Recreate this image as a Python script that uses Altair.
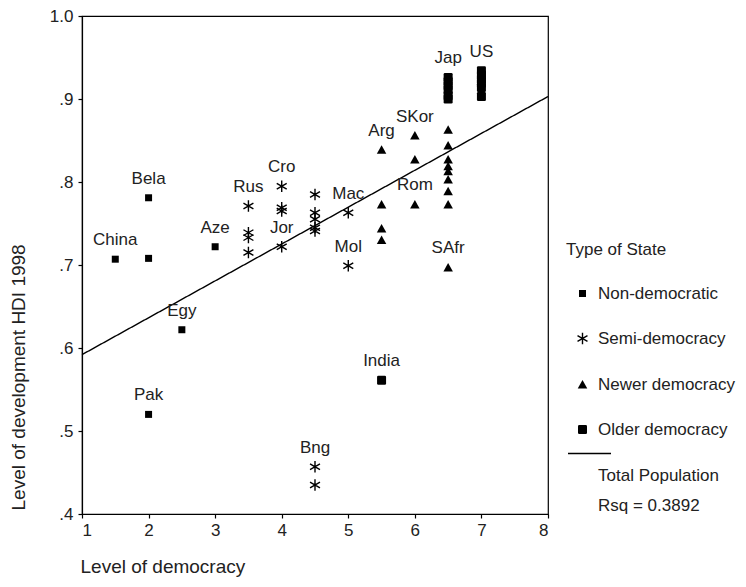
import altair as alt
import pandas as pd

# ---------------- data ----------------
types = ["Non-democratic", "Semi-democracy", "Newer democracy", "Older democracy"]

nondem_x = [1.5, 2, 2, 2, 2.5, 3]
nondem_y = [0.707, 0.708, 0.781, 0.520, 0.622, 0.722]

semi_x = [3.5, 3.5, 3.5, 3.5, 4, 4, 4, 4, 4.5, 4.5, 4.5, 4.5, 4.5, 4.5, 4.5, 5, 5]
semi_y = [0.771, 0.739, 0.733, 0.715, 0.795, 0.769, 0.765, 0.722,
          0.785, 0.763, 0.755, 0.745, 0.741, 0.457, 0.435, 0.763, 0.699]

newer_x = [5.5, 5.5, 5.5, 5.5, 6, 6, 6, 6.5, 6.5, 6.5, 6.5, 6.5, 6.5, 6.5, 6.5, 6.5]
newer_y = [0.839, 0.773, 0.744, 0.730, 0.856, 0.827, 0.773,
           0.863, 0.844, 0.827, 0.819, 0.813, 0.803, 0.789, 0.773, 0.697]

older_x = [5.5, 6.5, 6.5, 6.5, 6.5, 6.5, 6.5, 7, 7, 7, 7, 7, 7]
older_y = [0.561, 0.926, 0.921, 0.916, 0.911, 0.904, 0.900,
           0.934, 0.929, 0.924, 0.919, 0.914, 0.903]

label_names = ["China", "Bela", "Aze", "Egy", "Pak", "Rus", "Cro", "Jor", "Mac",
               "Mol", "Bng", "Arg", "SKor", "Rom", "SAfr", "Jap", "US", "India"]
label_x = [1.5, 2, 3, 2.5, 2, 3.5, 4, 4, 5, 5, 4.5, 5.5, 6, 6, 6.5, 6.5, 7, 5.5]
label_y = [0.707, 0.781, 0.722, 0.622, 0.520, 0.771, 0.795, 0.722, 0.763,
           0.699, 0.457, 0.839, 0.856, 0.773, 0.697, 0.926, 0.934, 0.561]

fit_x = [1, 8]
fit_y = [0.592, 0.903]
fit_name = "Total Population"
rsq_text = "Rsq = 0.3892"

x_ticks = [1, 2, 3, 4, 5, 6, 7, 8]
y_ticks = [0.4, 0.5, 0.6, 0.7, 0.8, 0.9, 1.0]

# ---------------- tables ----------------
rows = []
for t, xs, ys in zip(types, [nondem_x, semi_x, newer_x, older_x],
                     [nondem_y, semi_y, newer_y, older_y]):
    for a, b in zip(xs, ys):
        rows.append({"x": a, "y": b, "type": t})
pts = pd.DataFrame(rows)
labels = pd.DataFrame({"name": label_names, "x": label_x, "y": label_y})
fit = pd.DataFrame({"x": fit_x, "y": fit_y,
                    "series": [fit_name] * len(fit_x),
                    "rsq": [rsq_text] * len(fit_x)})

FONT = "Liberation Sans"
TXT = "#222222"
FS = 17

asterisk = (
    "M-0.14,-1.15V1.15H0.14V-1.15Z"
    "M0.926,0.696L1.066,0.454L-0.926,-0.696L-1.066,-0.454Z"
    "M1.066,-0.454L0.926,-0.696L-1.066,0.454L-0.926,0.696Z"
)
shape_paths = [
    "M-0.7,-0.7H0.7V0.7H-0.7Z",
    asterisk,
    "M0,-0.9L0.95,0.8H-0.95Z",
    "M-0.65,-0.9H0.65Q0.9,-0.9 0.9,-0.65V0.65Q0.9,0.9 0.65,0.9H-0.65Q-0.9,0.9 -0.9,0.65V-0.65Q-0.9,-0.9 -0.65,-0.9Z",
]

x_scale = alt.Scale(domain=[1, 8], nice=False, zero=False)
y_scale = alt.Scale(domain=[0.4, 1.0], nice=False, zero=False)

x_axis = alt.Axis(
    values=x_ticks, format="d", title="Level of democracy", grid=False,
    titleAnchor="start", titleAlign="left", titleX=-2, titleY=52,
    titleBaseline="middle", titleFontSize=19,
)
y_axis = alt.Axis(
    values=y_ticks, title="Level of development HDI 1998", grid=False,
    labelExpr="datum.value >= 1 ? '1.0' : substring(format(datum.value, '.1f'), 1)",
    titleAnchor="start", titleAlign="left", titleX=-64, titleY=494,
    titleBaseline="middle", titleAngle=-90, titleFontSize=19,
)

legend_common = dict(
    title=None, orient="none", legendX=499, symbolSize=100, labelOffset=0,
    labelFont=FONT, labelFontSize=FS, labelColor=TXT, labelLimit=300, padding=0,
)

line = alt.Chart(fit).mark_line(strokeWidth=1.4).encode(
    x=alt.X("x:Q", scale=x_scale, axis=x_axis),
    y=alt.Y("y:Q", scale=y_scale, axis=y_axis),
    color=alt.Color(
        "series:N",
        scale=alt.Scale(domain=[fit_name], range=["black"]),
        legend=alt.Legend(
            legendY=451, symbolType="M-4.3,-4.4H4.3", symbolStrokeWidth=1.4,
            symbolStrokeColor="black", **legend_common,
        ),
    ),
    strokeDash=alt.StrokeDash(
        "rsq:N",
        scale=alt.Scale(domain=[rsq_text], range=[[1, 0]]),
        legend=alt.Legend(
            legendY=481, symbolType="stroke", symbolOpacity=0,
            symbolStrokeWidth=0, **legend_common,
        ),
    ),
)

points = alt.Chart(pts).mark_point(
    filled=True, size=100, color="black", opacity=1
).encode(
    x=alt.X("x:Q", scale=x_scale, axis=x_axis),
    y=alt.Y("y:Q", scale=y_scale, axis=y_axis),
    shape=alt.Shape(
        "type:N",
        scale=alt.Scale(domain=types, range=shape_paths),
        legend=alt.Legend(
            title="Type of State", orient="none", legendX=484, legendY=226,
            titleFont=FONT, titleFontSize=FS, titleFontWeight="normal", titleColor=TXT,
            titlePadding=26, rowPadding=27,
            symbolSize=100, symbolOffset=8, labelOffset=7,
            symbolFillColor="black", symbolOpacity=1,
            labelFont=FONT, labelFontSize=FS, labelColor=TXT, labelLimit=300,
            padding=0,
        ),
    ),
)

text = alt.Chart(labels).mark_text(
    dy=-19, font=FONT, fontSize=FS, color=TXT
).encode(
    x=alt.X("x:Q", scale=x_scale),
    y=alt.Y("y:Q", scale=y_scale),
    text="name:N",
)

chart = alt.layer(line, points, text).properties(
    width=466, height=498,
    padding={"left": 74, "top": 8, "right": 190, "bottom": 65},
    autosize=alt.AutoSizeParams(type="none"),
).configure_view(
    stroke="black", strokeWidth=1.2
).configure_axis(
    domainColor="black", domainWidth=1.2, tickColor="black", tickSize=4, tickWidth=1.2,
    labelFont=FONT, labelFontSize=FS, labelColor=TXT, titleFont=FONT,
    titleFontWeight="normal", titleColor=TXT,
).configure_axisY(
    labelPadding=5
).configure_axisX(
    labelPadding=4
)

chart.save("out.html", embed_options={"renderer": "svg", "actions": False})
